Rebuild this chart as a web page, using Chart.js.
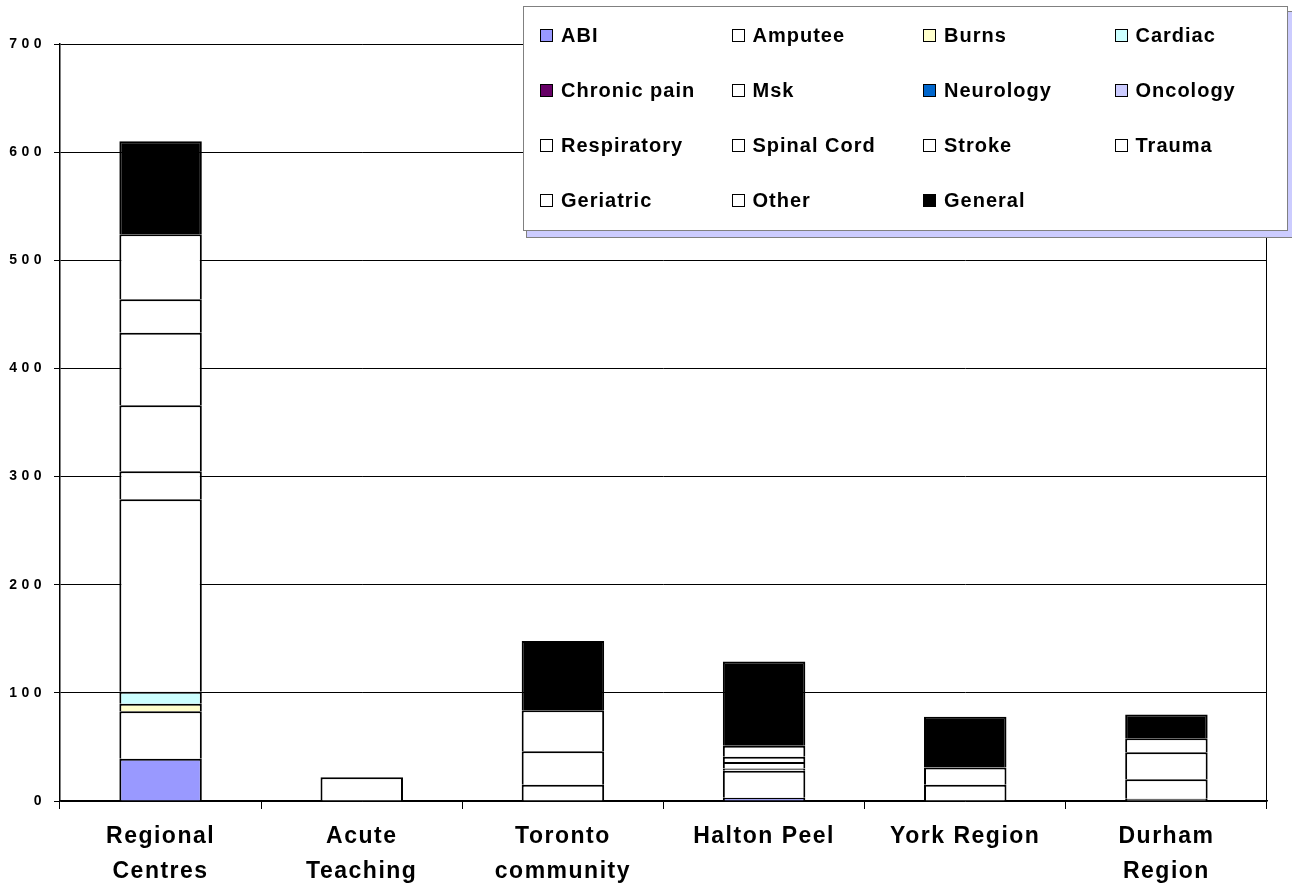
<!DOCTYPE html>
<html>
<head>
<meta charset="utf-8">
<script src="https://cdn.jsdelivr.net/npm/chart.js@4/dist/chart.umd.min.js"></script>
<style>
  html, body { margin: 0; padding: 0; background: #fff; }
  #wrap { position: relative; width: 1292px; height: 886px; font-family: 'Liberation Sans', Arial, sans-serif; }
  #c { position: absolute; left: 0; top: 0; }
  #legend {
    position: absolute; left: 523px; top: 6px; width: 765px; height: 225px;
    box-sizing: border-box; background: #fff; border: 1px solid #808080;
    box-shadow: 4px 6px 0 0 #ccccff, 4px 6px 0 1px #808080;
  }
  .li { position: absolute; height: 20px; display: flex; align-items: center; white-space: nowrap;
        font-weight: bold; font-size: 20px; letter-spacing: 1px; color: #000; }
  .sw { width: 11px; height: 11px; border: 1px solid #000; margin-right: 8px; flex: none; }
</style>
</head>
<body>
<div id="wrap">
  <canvas id="c" width="1292" height="886"></canvas>
  <div id="legend"></div>
</div>
<script>
// ---- data ----
const categories = [["Regional", "Centres"], ["Acute", "Teaching"], ["Toronto", "community"], "Halton Peel", "York Region", ["Durham", "Region"]];
const seriesNames = ["ABI", "Amputee", "Burns", "Cardiac", "Chronic pain", "Msk", "Neurology", "Oncology", "Respiratory", "Spinal Cord", "Stroke", "Trauma", "Geriatric", "Other", "General"];
const abi         = [39, null, null, 3, null, null];
const amputee     = [44, null, null, null, null, 2];
const burns       = [7, null, null, null, null, null];
const cardiac     = [11, null, null, null, null, null];
const chronicPain = [null, null, null, null, null, null];
const msk         = [178, null, 15, 25, 15, 18];
const neurology   = [null, null, null, null, null, null];
const oncology    = [null, null, null, null, null, null];
const respiratory = [26, null, null, null, null, null];
const spinalCord  = [61, null, null, 2, null, null];
const stroke      = [67, null, 31, 6, 16, 25];
const trauma      = [31, null, null, 5, null, null];
const geriatric   = [null, null, null, null, null, null];
const other       = [60, 22, 38, 10, null, 13];
const general     = [86, null, 64, 78, 47, 22];
const yTicks      = [0, 100, 200, 300, 400, 500, 600, 700];

// ---- styles ----
const seriesData = [abi, amputee, burns, cardiac, chronicPain, msk, neurology, oncology, respiratory, spinalCord, stroke, trauma, geriatric, other, general];
const seriesColors = ["#9999FF", "#FFFFFF", "#FFFFCC", "#CCFFFF", "#660066", "#FFFFFF", "#0066CC", "#CCCCFF", "#FFFFFF", "#FFFFFF", "#FFFFFF", "#FFFFFF", "#FFFFFF", "#FFFFFF", "#000000"];
const FONT = "'Liberation Sans', Arial, sans-serif";

const datasets = seriesNames.map((n, i) => ({
  label: n,
  data: seriesData[i],
  backgroundColor: seriesColors[i],
  borderColor: "#000",
  borderWidth: 2,
  borderSkipped: 'start',
  inflateAmount: 0,
  barPercentage: 0.41,
  categoryPercentage: 1.0
}));

function wrapSpacing(scale, px) {
  if (!scale || scale.__spaced) return;
  const orig = scale.drawLabels;
  scale.drawLabels = function (ca) {
    const c = this.ctx;
    c.save();
    c.letterSpacing = px;
    orig.call(this, ca);
    c.restore();
  };
  scale.__spaced = true;
}
const spacingPlugin = {
  id: 'spacing',
  beforeDraw(chart) {
    wrapSpacing(chart.scales.y, '4.5px');
    wrapSpacing(chart.scales.x, '1.5px');
  }
};

new Chart(document.getElementById('c'), {
  type: 'bar',
  data: { labels: categories, datasets },
  plugins: [spacingPlugin],
  options: {
    responsive: false,
    animation: false,
    layout: { padding: { top: 44, right: 25, left: 0, bottom: 0 } },
    plugins: { legend: { display: false }, tooltip: { enabled: false } },
    scales: {
      x: {
        stacked: true,
        offset: true,
        afterFit(s) { s.height = 85; },
        grid: {
          offset: true,
          drawOnChartArea: true,
          color: (c) => (c.type === 'scale' ? '#000' : 'rgba(0,0,0,0)'),
          tickColor: '#000',
          tickLength: 8,
          lineWidth: 1
        },
        border: { display: true, color: '#000', width: 1.5 },
        ticks: {
          color: '#000',
          padding: 10,
          maxRotation: 0,
          autoSkip: false,
          font: { family: FONT, size: 23, weight: 'bold', lineHeight: 1.52 }
        }
      },
      y: {
        stacked: true,
        min: 0,
        max: 700,
        afterFit(s) { s.width = 60; },
        afterBuildTicks(s) { s.ticks = yTicks.map(v => ({ value: v })); },
        grid: { color: '#000', tickColor: '#000', tickLength: 6, lineWidth: 1 },
        border: { display: true, color: '#000', width: 1.5 },
        ticks: {
          color: '#000',
          padding: 8,
          font: { family: FONT, size: 14, weight: 'bold' }
        }
      }
    }
  }
});

// ---- HTML legend ----
const legend = document.getElementById('legend');
seriesNames.forEach((n, i) => {
  const col = i % 4, row = Math.floor(i / 4);
  const it = document.createElement('div');
  it.className = 'li';
  it.style.left = (16 + col * 191.5) + 'px';
  it.style.top = (18 + row * 55.3) + 'px';
  const sw = document.createElement('span');
  sw.className = 'sw';
  sw.style.background = seriesColors[i];
  const tx = document.createElement('span');
  tx.textContent = n;
  it.appendChild(sw);
  it.appendChild(tx);
  legend.appendChild(it);
});
</script>
</body>
</html>
